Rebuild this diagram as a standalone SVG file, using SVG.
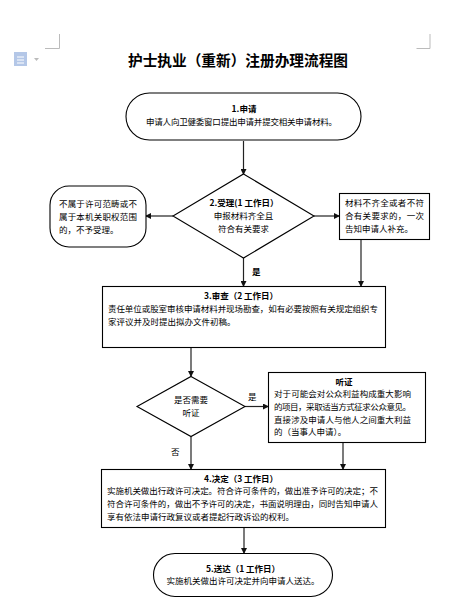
<svg xmlns="http://www.w3.org/2000/svg" width="465" height="599" viewBox="0 0 465 599">
<style>
text{font-family:"Noto Sans CJK SC","Liberation Sans",sans-serif;font-size:8.500px;fill:#000}
.m{text-anchor:middle}
.b{font-weight:700}
.s{fill:#fff;stroke:#000;stroke-width:1.1}
.c{fill:none;stroke:#222;stroke-width:1.2}
.g{fill:none;stroke:#bbb;stroke-width:1}
</style>
<defs><marker id="a" markerWidth="6" markerHeight="6" refX="5" refY="3" orient="auto" markerUnits="userSpaceOnUse"><path d="M0 0L6 3L0 6z" fill="#111"/></marker></defs>
<rect width="465" height="599" fill="#fff"/>
<g id="page-marks">
<path class="g" d="M45 48.500H59.500V34M430 34V48.500H416.500"/>
<path d="M14 52H27V66H14z" fill="#b4c7e7"/>
<path d="M17 57H24M17 60H24M17 63H24" stroke="#fff" fill="none"/>
<path d="M34 58H39L36.500 61z" fill="#bbb"/>
</g>
<text id="title" class="b" x="128" y="65.500" textLength="220" style="font-size:14.700px">护士执业（重新）注册办理流程图</text>
<g id="connectors">
<path class="c" marker-end="url(#a)" d="M243.500 141V174"/>
<path class="c" marker-end="url(#a)" d="M173 216H146"/>
<path class="c" marker-end="url(#a)" d="M314 216H339"/>
<path class="c" marker-end="url(#a)" d="M243.500 258V286"/>
<path class="c" marker-end="url(#a)" d="M361 239V286"/>
<path class="c" marker-end="url(#a)" d="M191 347V376"/>
<path class="c" marker-end="url(#a)" d="M245 406.500H268"/>
<path class="c" marker-end="url(#a)" d="M191 437V469"/>
<path class="c" marker-end="url(#a)" d="M343 442V469"/>
<path class="c" marker-end="url(#a)" d="M244 527V553"/>
</g>
<g id="n1"><rect class="s" x="126" y="93" width="235" height="47" rx="23.500"/>
<text class="m b" x="244" y="112">1.申请</text>
<text x="146" y="125" textLength="191">申请人向卫健委窗口提出申请并提交相关申请材料。</text></g>
<g id="n2"><path class="s" d="M243.500 174L314 216L243.500 258L173 216z"/>
<text class="m b" x="244" y="206">2.受理(1 工作日）</text>
<text class="m" x="243.500" y="219">申报材料齐全且</text>
<text class="m" x="243.500" y="232">符合有关要求</text></g>
<g id="n2a"><rect class="s" x="50" y="186" width="96" height="61" rx="19"/>
<text x="59" y="207" textLength="78">不属于许可范畴或不</text>
<text x="59" y="220" textLength="78">属于本机关职权范围</text>
<text x="59" y="233">的，不予受理。</text></g>
<g id="n2b"><rect class="s" x="339.500" y="193.500" width="90" height="46"/>
<text x="345" y="206" textLength="79">材料不齐全或者不符</text>
<text x="345" y="219" textLength="79">合有关要求的，一次</text>
<text x="345" y="232">告知申请人补充。</text></g>
<text id="l1" class="b" x="252" y="275">是</text>
<g id="n3"><rect class="s" x="102.500" y="286.500" width="283" height="61"/>
<text class="m b" x="241" y="299">3.审查（2 工作日）</text>
<text x="108" y="312" textLength="270">责任单位或股室审核申请材料并现场勘查，如有必要按照有关规定组织专</text>
<text x="108" y="325">家评议并及时提出拟办文件初稿。</text></g>
<g id="n3a"><path class="s" d="M191 376.500L245 406.500L191 436.500L137 406.500z"/>
<text class="m" x="191" y="403">是否需要</text>
<text class="m" x="191" y="416">听证</text></g>
<text id="l2" x="248" y="400">是</text>
<text id="l3" x="171" y="455">否</text>
<g id="n3b"><rect class="s" x="268.500" y="372.500" width="157" height="70"/>
<text class="m b" x="344" y="385">听证</text>
<text x="274" y="397" textLength="137">对于可能会对公众利益构成重大影响</text>
<text x="274" y="410" textLength="137">的项目，采取适当方式征求公众意见。</text>
<text x="274" y="423" textLength="137">直接涉及申请人与他人之间重大利益</text>
<text x="274" y="435">的（当事人申请）。</text></g>
<g id="n4"><rect class="s" x="101.500" y="469.500" width="284" height="58"/>
<text class="m b" x="241" y="482">4.决定（3 工作日）</text>
<text x="107" y="494" textLength="271">实施机关做出行政许可决定。符合许可条件的，做出准予许可的决定；不</text>
<text x="107" y="507" textLength="271">符合许可条件的，做出不予许可的决定，书面说明理由，同时告知申请人</text>
<text x="107" y="520">享有依法申请行政复议或者提起行政诉讼的权利。</text></g>
<g id="n5"><rect class="s" x="153.500" y="553.500" width="179" height="43" rx="21.500"/>
<text class="m b" x="243" y="572">5.送达（1 工作日）</text>
<text class="m" x="243" y="584">实施机关做出许可决定并向申请人送达。</text></g>
</svg>
